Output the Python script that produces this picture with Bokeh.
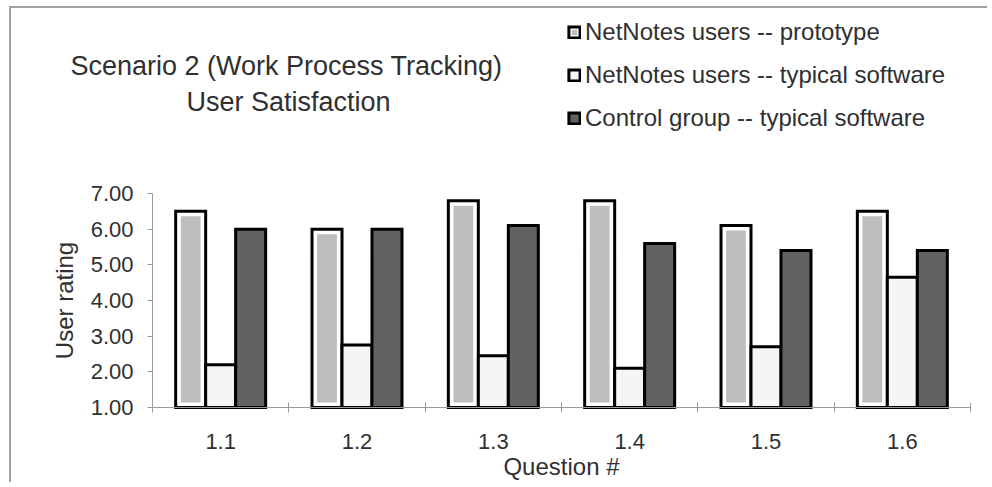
from bokeh.plotting import figure
from bokeh.models import (Range1d, FixedTicker, NumeralTickFormatter, Label, Legend,
                          LegendItem, ColumnDataSource)
from bokeh.transform import dodge
from bokeh.embed import file_html
from bokeh.resources import INLINE

# ---------------- data ----------------
questions = ["1.1", "1.2", "1.3", "1.4", "1.5", "1.6"]
prototype = [6.5, 6.0, 6.8, 6.8, 6.1, 6.5]
typical = [2.2, 2.75, 2.45, 2.1, 2.7, 4.65]
control = [6.0, 6.0, 6.1, 5.6, 5.4, 5.4]
series_names = ["NetNotes users -- prototype",
                "NetNotes users -- typical software",
                "Control group -- typical software"]
y_ticks = [1, 2, 3, 4, 5, 6, 7]
title_lines = ["Scenario 2 (Work Process Tracking)", "User Satisfaction"]
y_label = "User rating"
x_label = "Question #"

# ---------------- style / geometry ----------------
FONT = "Liberation Sans"
TXT = "#303030"
AX = "#9a9a9a"
GRAY = "#bebebe"
BW = 0.22          # bar width (category units)
INSET_X = 0.075    # inner white ring of prototype bars
INSET_Y = 0.14

W, H = 978, 476
ORG_X, ORG_Y = 11, 8                 # page position of the canvas
AX_L, AX_R, AX_T, AX_B = 152, 970, 193, 407   # page pixels of the axis box

n = len(questions)
ppx = (AX_R - AX_L) / n
ppy = (AX_B - AX_T) / (y_ticks[-1] - y_ticks[0])
x0 = -(AX_L - ORG_X) / ppx
x1 = n + (ORG_X + W - AX_R) / ppx
y0 = y_ticks[0] - (ORG_Y + H - AX_B) / ppy
y1 = y_ticks[0] + (AX_B - ORG_Y) / ppy

def px_to_x(px):
    return (px - AX_L) / ppx

def py_to_y(py):
    return y_ticks[0] + (AX_B - py) / ppy

centers = [i + 0.5 for i in range(n)]
bounds = [float(i) for i in range(n + 1)]
base = y_ticks[0]

src = ColumnDataSource(dict(
    x=centers,
    proto=prototype,
    proto_in=[v - INSET_Y for v in prototype],
    typ=typical,
    ctrl=control,
))

p = figure(width=W, height=H, output_backend="svg", toolbar_location=None,
           x_range=Range1d(x0, x1), y_range=Range1d(y0, y1),
           min_border=0, min_border_left=0, min_border_right=0,
           min_border_top=0, min_border_bottom=0)
p.title.visible = False
p.styles = {"margin-left": "9px", "margin-top": "6px",
            "border-top": "2px solid #a0a0a0", "border-left": "2px solid #a0a0a0"}
p.outline_line_color = None
p.grid.visible = False
p.background_fill_color = "white"
p.border_fill_color = "white"

outer = p.vbar(x=dodge("x", -BW), top="proto", bottom=base, width=BW, source=src,
               fill_color="white", line_color="black", line_width=3, line_join="miter")
p.vbar(x=dodge("x", -BW), top="proto_in", bottom=base + INSET_Y, width=BW - INSET_X,
       source=src, fill_color=GRAY, line_color=None)
typ_r = p.vbar(x="x", top="typ", bottom=base, width=BW, source=src,
               fill_color="#f5f5f5", line_color="black", line_width=3, line_join="miter")
ctrl_r = p.vbar(x=dodge("x", BW), top="ctrl", bottom=base, width=BW, source=src,
                fill_color="#626262", line_color="black", line_width=3, line_join="miter")
# zero-size marker: only supplies the grey centre of the prototype legend icon
core = p.scatter(x=dodge("x", -BW), y="proto", source=src, size=0, marker="square",
                 fill_color=GRAY, line_color=None)

# ---------------- axes (fixed inside the frame) ----------------
yax = p.yaxis[0]
yax.fixed_location = 0
yax.bounds = (y_ticks[0], y_ticks[-1])
yax.ticker = FixedTicker(ticks=y_ticks)
yax.formatter = NumeralTickFormatter(format="0.00")
yax.axis_line_color = AX
yax.major_tick_line_color = AX
yax.major_tick_in = 0
yax.major_tick_out = 5
yax.minor_tick_line_color = None
yax.major_label_text_font = FONT
yax.major_label_text_font_size = "22px"
yax.major_label_text_color = TXT
yax.major_label_standoff = 14
yax.axis_label = y_label
yax.axis_label_text_font = FONT
yax.axis_label_text_font_size = "24px"
yax.axis_label_text_font_style = "normal"
yax.axis_label_text_color = TXT
yax.axis_label_standoff = 10

xax = p.xaxis[0]
xax.fixed_location = base
xax.bounds = (0, n)
xax.ticker = FixedTicker(ticks=centers, minor_ticks=bounds)
xax.major_label_overrides = {c: q for c, q in zip(centers, questions)}
xax.axis_line_color = AX
xax.major_tick_line_color = None
xax.major_tick_in = 0
xax.major_tick_out = 0
xax.minor_tick_line_color = AX
xax.minor_tick_in = 5
xax.minor_tick_out = 5
xax.major_label_text_font = FONT
xax.major_label_text_font_size = "22px"
xax.major_label_text_color = TXT
xax.major_label_standoff = 21
xax.axis_label = x_label
xax.axis_label_text_font = FONT
xax.axis_label_text_font_size = "24px"
xax.axis_label_text_font_style = "normal"
xax.axis_label_text_color = TXT
xax.axis_label_standoff = 1

# ---------------- title ----------------
for txt, (tx, ty) in zip(title_lines, [(286, 65), (288, 101)]):
    p.add_layout(Label(x=px_to_x(tx), y=py_to_y(ty), text=txt, text_align="center",
                       text_baseline="middle", text_font=FONT, text_font_size="27px",
                       text_color=TXT))

# ---------------- legend ----------------
legend = Legend(items=[LegendItem(label=series_names[0], renderers=[outer, core]),
                       LegendItem(label=series_names[1], renderers=[typ_r]),
                       LegendItem(label=series_names[2], renderers=[ctrl_r])],
                location=(567 - ORG_X, ORG_Y + H - 132))
legend.label_text_font = FONT
legend.label_text_font_size = "24px"
legend.label_text_color = TXT
legend.glyph_width = 14
legend.glyph_height = 14
legend.spacing = 15
legend.padding = 0
legend.margin = 0
legend.label_standoff = 4
legend.border_line_color = None
legend.background_fill_alpha = 0
p.add_layout(legend, "center")

open("out.html", "w").write(file_html(p, INLINE))
